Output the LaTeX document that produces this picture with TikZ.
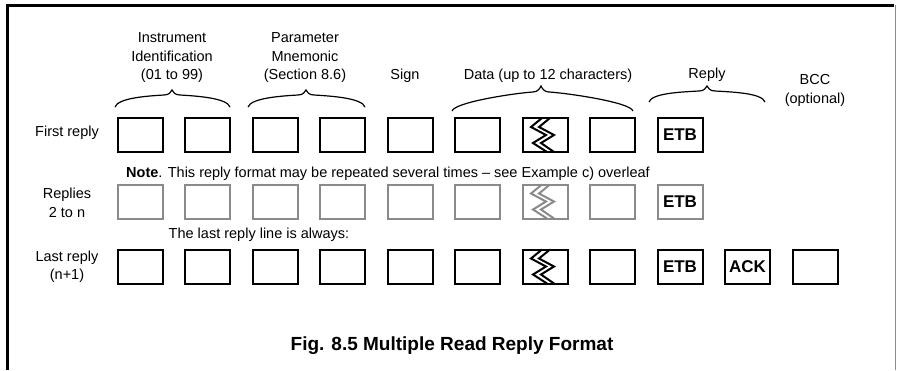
\documentclass[tikz,border=0pt]{standalone}
\usepackage{fontspec}
\setmainfont{Liberation Sans}
\definecolor{boxgray}{HTML}{8A8A8A}
\newcommand\mybrace[6]{%
  \draw[brc] (#1,#4) .. controls ({#1+3},{#4-9}) and ({#3-25},#5) .. ({#3-8},{#5-1})
     .. controls ({#3-3},{#5-1}) and ({#3-1},{#6+2}) .. (#3,#6)
     .. controls ({#3+1},{#6+2}) and ({#3+3},{#5-1}) .. ({#3+8},{#5-1})
     .. controls ({#3+25},#5) and ({#2-3},{#4-9}) .. (#2,#4);}
\begin{document}
\begin{tikzpicture}[x=1pt,y=-1pt,
  cell/.style={draw=black,line width=2pt,minimum width=45pt,minimum height=34pt,inner sep=0pt,
    font=\fontsize{17}{17}\selectfont\bfseries},
  gcell/.style={cell,draw=boxgray},
  lbl/.style={font=\fontsize{14.5}{18.5}\selectfont,inner sep=0pt,anchor=base},
  ttl/.style={font=\fontsize{19}{19}\selectfont\bfseries,inner sep=0pt,anchor=base},
  brc/.style={line width=1.2pt,black},
  zz/.style={line width=2pt,line join=miter}]
\useasboundingbox (0,0) rectangle (898,370);
% frame
\coordinate (ftl) at (7,5);
\coordinate (ftr) at (894,5);
\coordinate (fbl) at (7,370);
\coordinate (frt) at (895,5);
\coordinate (frb) at (895,370);
\draw[line width=3pt] (fbl) -- (ftl) -- (ftr);
\draw[line width=1pt,boxgray] (frt) -- (frb);

% headers
\node[lbl] (h1a) at (172,42) {Instrument};
\node[lbl] (h1b) at (172,61) {Identification};
\node[lbl] (h1c) at (172,79) {(01 to 99)};
\node[lbl] (h2a) at (305,42) {Parameter};
\node[lbl] (h2b) at (305,61) {Mnemonic};
\node[lbl] (h2c) at (305,79) {(Section 8.6)};
\node[lbl] (h3) at (405,79) {Sign};
\node[lbl] (h4) at (548,79) {Data (up to 12 characters)};
\node[lbl] (h5) at (707,78) {Reply};
\node[lbl] (h6a) at (815,84) {BCC};
\node[lbl] (h6b) at (815,103) {(optional)};

% braces
\mybrace{115}{230}{172}{107}{96}{90}
\mybrace{248}{365}{306}{107}{96}{90}
\mybrace{452}{633}{541}{111}{93}{86}
\mybrace{649}{765}{707}{102}{92}{86}

% row labels
\node[lbl] (l1) at (67,136) {First reply};
\node[lbl] (l2a) at (67,198) {Replies};
\node[lbl] (l2b) at (67,217) {2 to n};
\node[lbl] (l3a) at (67,261) {Last reply};
\node[lbl] (l3b) at (67,279) {(n+1)};
\node[lbl] (note) at (388,177) {\textbf{Note}. This reply format may be repeated several times -- see Example c) overleaf};
\node[lbl] (last) at (259,238) {The last reply line is always:};

% row 1
\foreach \i in {0,...,7} {\node[cell] (a\i) at ({140+67.5*\i},135) {};}
\node[cell] (a8) at ({140+67.5*8},135) {ETB};
% row 2
\foreach \i in {0,...,7} {\node[gcell] (b\i) at ({140+67.5*\i},201.5) {};}
\node[gcell] (b8) at ({140+67.5*8},201.5) {ETB};
% row 3
\foreach \i in {0,...,7} {\node[cell] (c\i) at ({140+67.5*\i},266.5) {};}
\node[cell] (c8) at ({140+67.5*8},266.5) {ETB};
\node[cell] (c9) at ({140+67.5*9},266.5) {ACK};
\node[cell] (c10) at ({140+67.5*10},266.5) {};

% zigzags
\foreach \n/\col in {a6/black,b6/boxgray,c6/black} {
  \begin{scope}[shift={(\n.center)}]
    \draw[zz,\col] (-3,-17) -- (-14,-8) -- (1,0) -- (-12,8) -- (2,17);
    \draw[zz,\col] (5,-17) -- (-6,-8) -- (9,0) -- (-4,8) -- (9,17);
  \end{scope}
}

% title
\node[ttl] (title) at (452,350) {Fig. 8.5 Multiple Read Reply Format};
\end{tikzpicture}
\end{document}
